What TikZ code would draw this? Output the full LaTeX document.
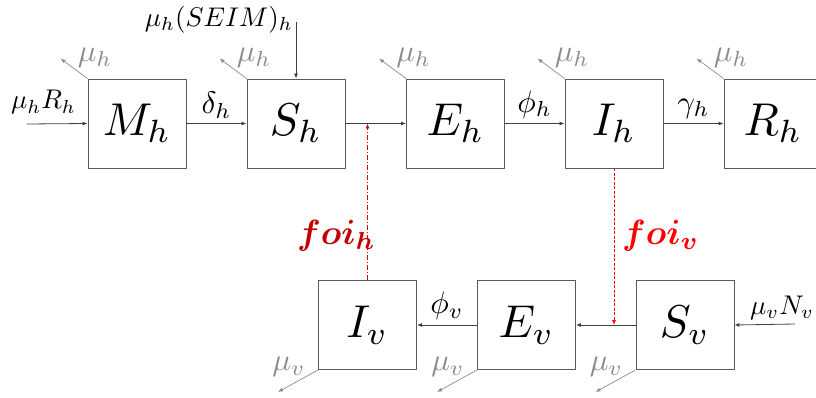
\documentclass[tikz,border=0pt]{standalone}
\usepackage{amsmath}
\usepackage{graphicx}
\usepackage{tikz}
\usetikzlibrary{arrows.meta}
\definecolor{boxgray}{HTML}{595959}
\definecolor{linegray}{HTML}{404040}
\definecolor{mugray}{HTML}{8C8C8C}
\definecolor{foidark}{HTML}{C00000}
\definecolor{foired}{HTML}{FF0000}
\newcommand{\complab}[1]{\scalebox{4.6}{$#1$}}
\newcommand{\ratelab}[1]{\scalebox{3.1}{$#1$}}
\newcommand{\inlab}[1]{\scalebox{2.7}{$#1$}}
\newcommand{\foilab}[1]{\scalebox{3.5}{\boldmath$#1$}}
\tikzset{
  every picture/.style={
    line join=round,
    >={Latex[length=5pt,width=4pt]},  % small filled tips
  },
  comp/.style={draw=boxgray, line width=0.9pt, minimum width=98pt,
    minimum height=89pt, inner sep=0pt},
  flow/.style={->, draw=linegray, line width=0.8pt},
  rate/.style={inner sep=1pt},
  mort/.style={->, draw=mugray, line width=0.7pt},
  mortlab/.style={text=mugray, inner sep=0pt},
}

\begin{document}
\begin{tikzpicture}[x=1pt, y=-1pt]
    \useasboundingbox (0,0) rectangle (816,398);

    % Human compartments
    \node[comp] (Mh) at (137,123.5) {\complab{M_h}};
    \node[comp] (Sh) at (296,123.5) {\complab{S_h}};
    \node[comp] (Eh) at (455.5,123.5) {\complab{E_h}};
    \node[comp] (Ih) at (614,123.5) {\complab{I_h}};
    \node[comp] (Rh) at (773,123.5) {\complab{R_h}};

    % Vector compartments
    \node[comp] (Iv) at (367.5,325) {\complab{I_v}};
    \node[comp] (Ev) at (526.5,325) {\complab{E_v}};
    \node[comp] (Sv) at (685,325) {\complab{S_v}};

    % Inflows
    \coordinate (Rin) at (27,124);
    \coordinate (SEIMin) at (296,22);
    \coordinate (Nin) at (795,324);
    \draw[flow] (Rin) -- (Mh.west);
    \node[inner sep=0pt, anchor=base west] (lRin) at (11,109) {\inlab{\mu_h R_h}};
    \draw[flow] (SEIMin) -- (Sh.north);
    \node[inner sep=0pt, anchor=east] (lSEIM) at (293,20) {\inlab{\mu_h(SEIM)_h}};
    \draw[flow] (Nin) -- (Sv.east);
    \node[inner sep=0pt, anchor=base west] (lNin) at (750,314) {\inlab{\mu_v N_v}};

    % Transitions
    \draw[flow] (Mh.east) -- (Sh.west) node[rate, midway, above=4pt] (ldelta) {\ratelab{\delta_h}};
    \draw[flow] (Sh.east) -- (Eh.west);
    \draw[flow] (Eh.east) -- (Ih.west) node[rate, midway, above=4pt] (lphih) {\ratelab{\phi_h}};
    \draw[flow] (Ih.east) -- (Rh.west) node[rate, midway, above=4pt] (lgamma) {\ratelab{\gamma_h}};
    \draw[flow] (Sv.west) -- (Ev.east);
    \draw[flow] (Ev.west) -- (Iv.east) node[rate, midway, above=4pt] (lphiv) {\ratelab{\phi_v}};

    % Deaths
    \foreach \c in {Mh,Sh,Eh,Ih,Rh} {
        \draw[mort] (\c.north west) -- ++(-27,-20) coordinate (\c-dead);
        \node[mortlab, anchor=base west] (\c-mu) at ([shift={(-10,-17)}]\c.north west) {\ratelab{\mu_h}};
    }
    \foreach \c in {Iv,Ev,Sv} {
        \draw[mort] (\c.south west) -- ++(-40,22) coordinate (\c-dead);
        \node[mortlab, anchor=base west] (\c-mu) at ([shift={(-46,1)}]\c.south west) {\ratelab{\mu_v}};
    }

    % Forces of infection
    \draw[->, foidark!70!foired, line width=0.8pt, dash pattern=on 5pt off 2pt on 1pt off 2pt]
        (Iv.north) -- (Iv.north |- Sh.east);
    \node[inner sep=0pt, text=foidark, anchor=base west] (foih) at (297,244) {\foilab{foi_h}};
    \draw[->, foired, line width=0.8pt, dash pattern=on 3pt off 1.5pt]
        (Ih.south) -- (Ih.south |- Sv.west);
    \node[inner sep=0pt, text=foired, anchor=base west] (foiv) at (622,244) {\foilab{foi_v}};
\end{tikzpicture}
\end{document}
